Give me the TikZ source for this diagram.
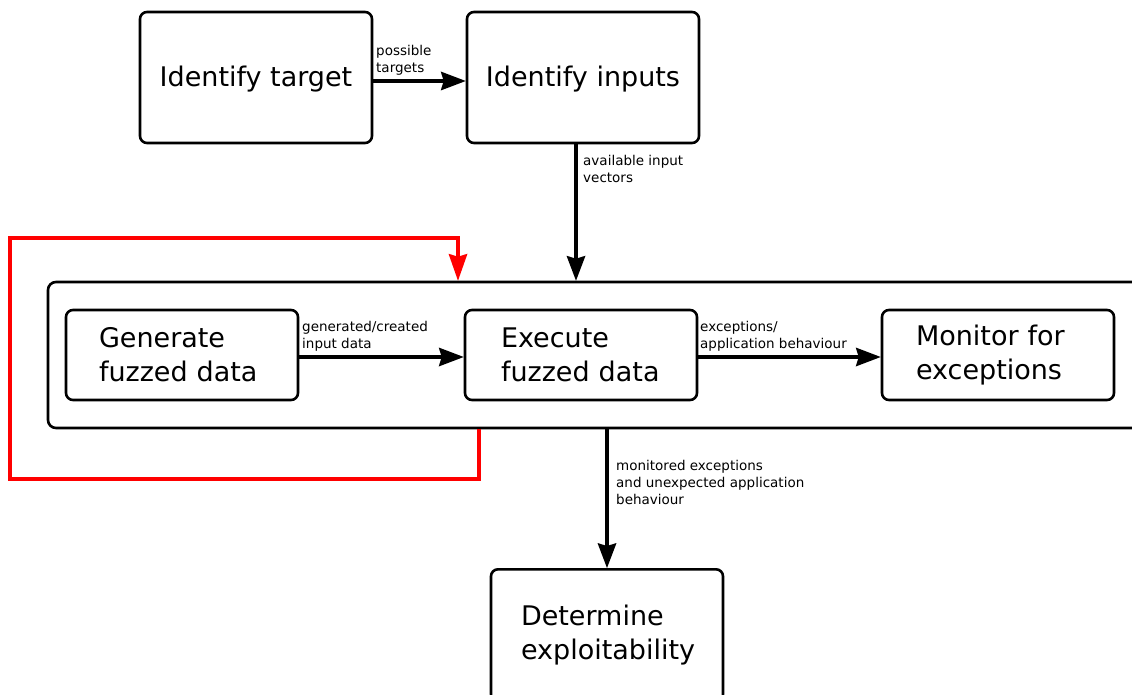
\documentclass[tikz,border=0pt]{standalone}
\usepackage{fontspec}
\setmainfont{DejaVu Sans}
\usetikzlibrary{arrows.meta}
\begin{document}
\begin{tikzpicture}[x=1pt,y=-1pt,
  box/.style={draw, line width=2.6pt, rounded corners=7pt, minimum width=232pt,
    inner sep=0pt, align=left, font=\fontsize{27}{34}\selectfont},
  padded/.style={inner xsep=#1, text width=232pt-2*#1},
  frame/.style={draw, line width=2.6pt, rounded corners=8pt, inner sep=0pt},
  flow/.style={line width=3.6pt, -{Stealth[length=25pt,width=19pt,inset=3pt,line width=0pt]}},
  backflow/.style={red, line width=3.4pt, -{Stealth[length=27pt,width=19pt,inset=3pt,line width=0pt]}},
  lbl/.style={anchor=west, inner sep=0pt, align=left, font=\fontsize{13.5}{17}\selectfont},
]
\useasboundingbox (0,0) rectangle (1132,695);
\clip (0,0) rectangle (1132,695);

% top row
\node[box, minimum height=131pt, text height=23pt, text depth=4pt] (target) at (256,77.5) {Identify target};
\node[box, minimum height=131pt, text height=23pt, text depth=4pt] (inputs) at (583,77.5) {Identify inputs};

% fuzzing loop frame and its stages
\node[frame, minimum width=1110pt, minimum height=146pt] (loop) at (603,355) {};
\node[box, padded=33pt, minimum height=90pt] (gen) at (182,355) {Generate\\fuzzed data};
\node[box, padded=36pt, minimum height=90pt] (exec) at (581,355) {Execute\\fuzzed data};
\node[box, padded=34pt, minimum height=90pt] (mon) at (998,355) {Monitor for\\exceptions};

% final stage
\node[box, padded=30pt, minimum height=132pt, anchor=north] (det) at (607,568) {Determine\\exploitability};

% connectors
\draw[flow] ([yshift=-3.5pt]target.east) -- ([yshift=-3.5pt]inputs.west);
\draw[flow] (inputs.south -| 576,0) -- (loop.north -| 576,0);
\draw[flow] ([yshift=-2pt]gen.east) -- ([yshift=-2pt]exec.west);
\draw[flow] ([yshift=-2pt]exec.east) -- ([yshift=-2pt]mon.west);
\draw[flow] (loop.south -| det.north) -- (det.north);

% feedback loop
\coordinate (lowturn) at (10,479);
\coordinate (highturn) at (458,238);
\draw[backflow] (loop.south -| 479,0) |- (lowturn) |- (highturn) -- (loop.north -| highturn);

% connector labels
\node[lbl] (l1) at (376,60) {possible\\targets};
\node[lbl] (l2) at (583,169) {available input\\vectors};
\node[lbl] (l3) at (302,336) {generated/created\\input data};
\node[lbl] (l4) at (700,336) {exceptions/\\application behaviour};
\node[lbl] (l5) at (616,482.5) {monitored exceptions\\and unexpected application\\behaviour};
\end{tikzpicture}
\end{document}
